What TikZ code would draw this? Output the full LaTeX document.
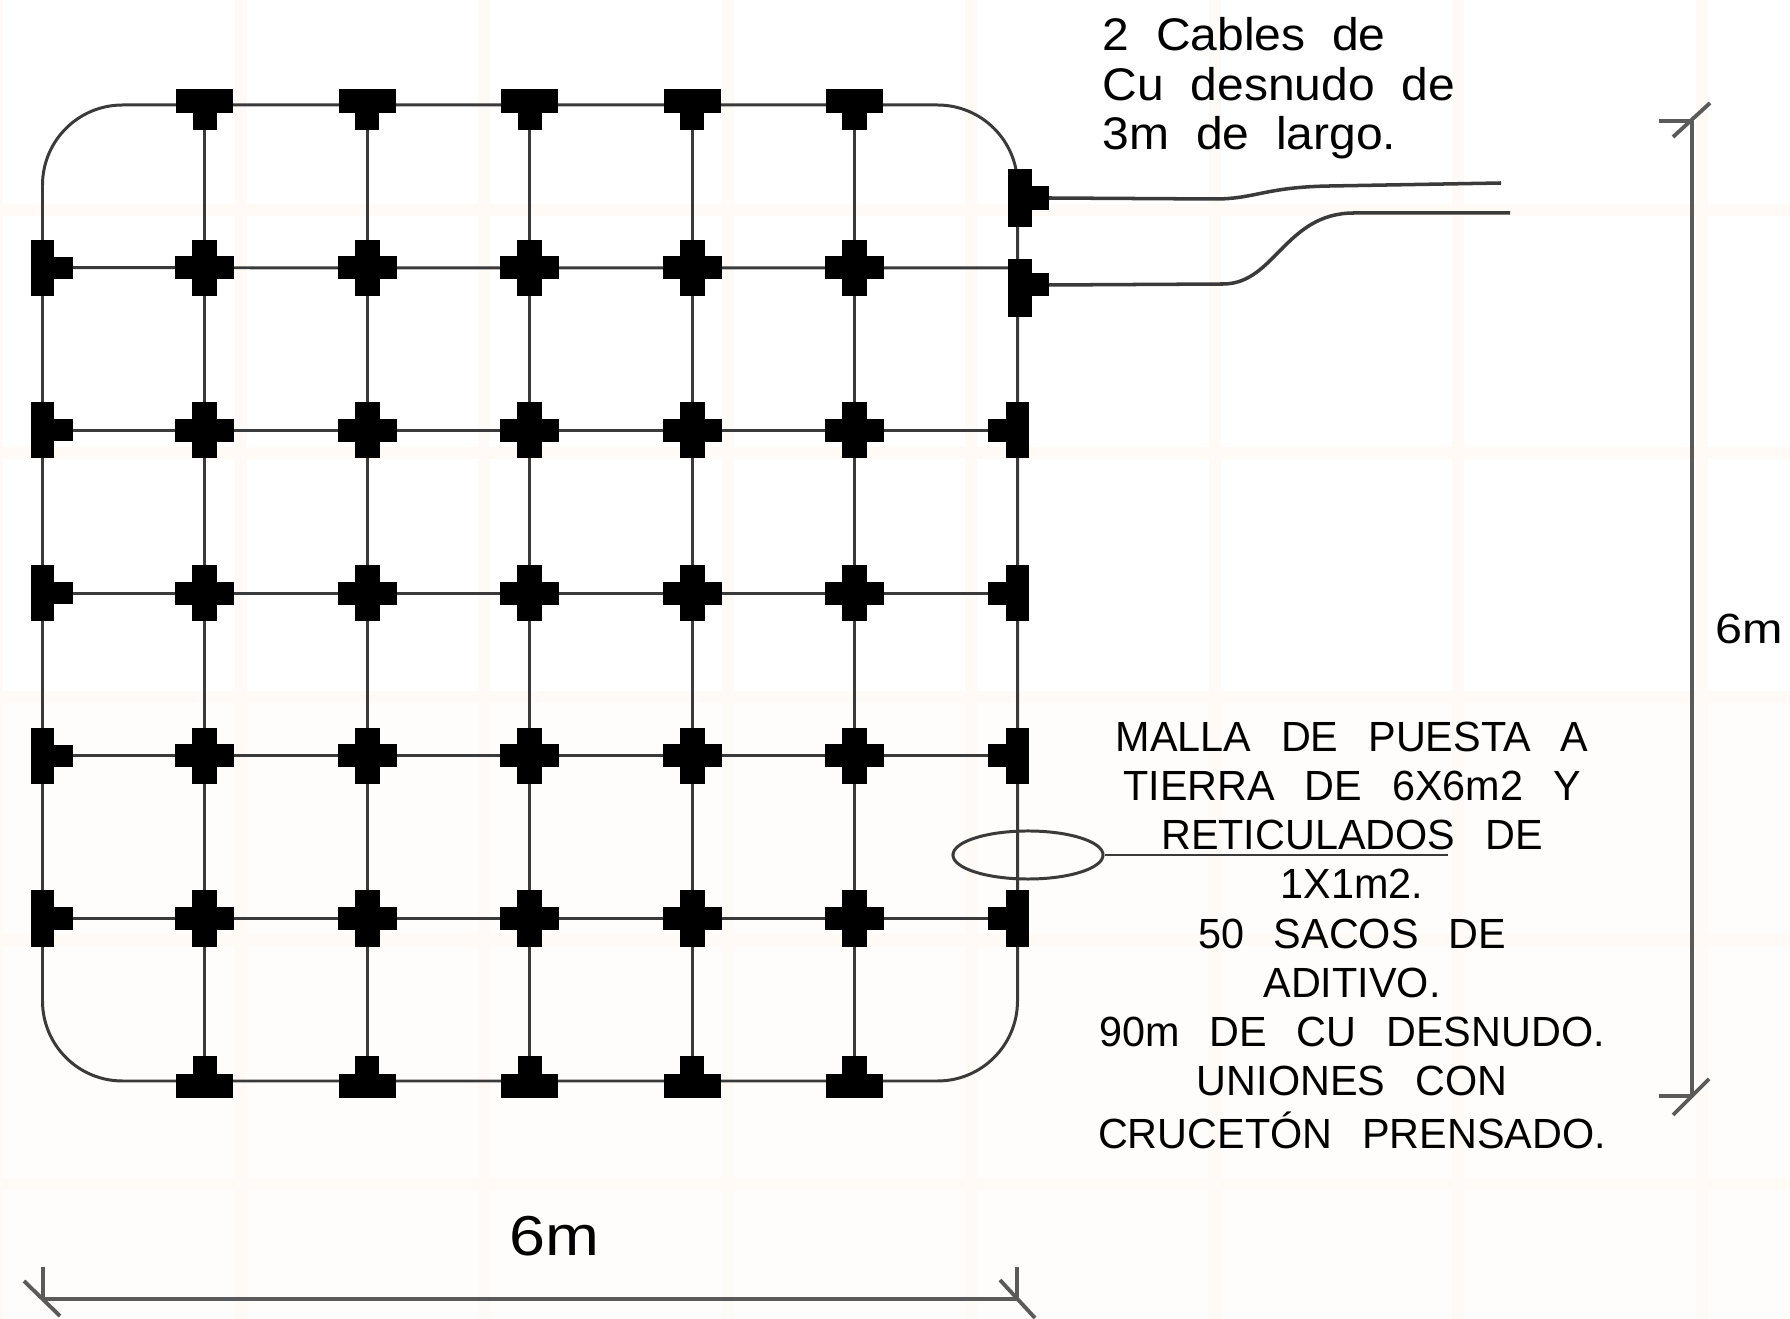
\documentclass[tikz,border=0pt]{standalone}
\usepackage{fontspec}
\usetikzlibrary{shapes.geometric,backgrounds}
\setmainfont{Liberation Sans}[FakeStretch=0.98,WordSpace=2.6]
\newfontfamily\cablefont{Liberation Sans}[FakeStretch=1.05,WordSpace=2.0]
\newfontfamily\cotafont{Liberation Sans}[FakeStretch=1.15]
\definecolor{fondo}{HTML}{FFFDFB}
\definecolor{raya}{HTML}{FFFAF6}
\definecolor{linea}{HTML}{3A3A3A}
\definecolor{cota}{HTML}{5A5A5A}
\tikzset{
  barra/.style={fill=black,inner sep=0pt,outer sep=0pt},
  barh/.style={barra,minimum width=0.59cm,minimum height=0.23cm},
  barv/.style={barra,minimum width=0.25cm,minimum height=0.56cm},
  malla/.style={draw=linea,line width=0.85pt},
  dimen/.style={draw=cota,line width=1.1pt},
  rotulo/.style={align=left,inner sep=0pt,font=\fontsize{12}{14}\selectfont},
}
\begin{document}
\begin{tikzpicture}[x=0.01cm,y=-0.01cm]
  \useasboundingbox (0,0) rectangle (1790,1319);
  % junctions of the grid
  \foreach \i in {1,...,5} {
    \foreach \j in {1,...,5} {
      \node[barh] (h-\i-\j) at ({42.5+162.4*\i},{105+162.7*\j}) {};
      \node[barv] (v-\i-\j) at ({42.5+162.4*\i},{105+162.7*\j}) {};
    }
    \node[barh,minimum width=0.57cm,minimum height=0.24cm] (h-\i-0) at ({42.5+162.4*\i},101) {};
    \node[barv,minimum width=0.24cm,minimum height=0.30cm] (v-\i-0) at ({42.5+162.4*\i},115) {};
    \node[barh,minimum width=0.57cm,minimum height=0.24cm] (h-\i-6) at ({42.5+162.4*\i},1086) {};
    \node[barv,minimum width=0.24cm,minimum height=0.30cm] (v-\i-6) at ({42.5+162.4*\i},1071) {};
  }
  \foreach \j in {1,...,5} {
    \node[barv,minimum width=0.23cm] (v-0-\j) at (42.5,{105+162.7*\j}) {};
    \node[barh,minimum width=0.31cm,minimum height=0.22cm] (h-0-\j) at (57.5,{105+162.7*\j}) {};
  }
  \foreach \j in {2,...,5} {
    \node[barv,minimum width=0.23cm] (v-6-\j) at (1017.5,{105+162.7*\j}) {};
    \node[barh,minimum width=0.30cm,minimum height=0.23cm] (h-6-\j) at (1003,{105+162.7*\j}) {};
  }
  % the two that carry the loose cables
  \node[barv,minimum width=0.24cm,minimum height=0.58cm] (v-a) at (1020,198) {};
  \node[barh,minimum width=0.30cm,minimum height=0.24cm] (h-a) at (1034,198) {};
  \node[barv,minimum width=0.24cm,minimum height=0.57cm] (v-b) at (1020,288) {};
  \node[barh,minimum width=0.30cm,minimum height=0.23cm] (h-b) at (1034,285) {};
  \coordinate (esq-a) at (42.5,105);
  \coordinate (esq-b) at (1017.5,1081);
  \coordinate (r-1) at (1017.5,268);
  \begin{scope}[on background layer]
    \fill[white] (0,0) rectangle (1790,1319);
    \fill[fondo] (0,700) rectangle (1790,1319);
    \foreach \k in {0,1,2,3,4,5,6,7} {
      \fill[raya] ({-9+243.5*\k},0) rectangle ({3+243.5*\k},1319);
    }
    \foreach \k in {0,1,2,3,4} {
      \fill[raya] (0,{204+243.5*\k}) rectangle (1790,{216+243.5*\k});
    }
    % grid
    \draw[malla,rounded corners=0.8cm] (esq-a) rectangle (esq-b);
    \foreach \i in {1,...,5} {
      \draw[malla] (h-\i-0) -- (h-\i-6);
    }
    \foreach \j in {2,...,5} {
      \draw[malla] (v-0-\j) -- (v-6-\j);
    }
    \draw[malla] (v-0-1) -- (r-1);
  \end{scope}
  % cables
  \coordinate (fin-a) at (1501,183);
  \coordinate (fin-b) at (1510,213);
  \draw[malla,line width=1pt] (h-a.east) -- (1215,199) .. controls (1255,199) and (1265,187) .. (1330,186) -- (fin-a);
  \draw[malla,line width=1pt] (h-b.east) -- (1223,284) .. controls (1275,284) and (1285,213) .. (1354,213) -- (fin-b);
  % leader
  \node[draw=linea,line width=0.85pt,ellipse,minimum width=1.5cm,minimum height=0.48cm,inner sep=0pt] (aro) at (1028,855) {};
  \coordinate (fin-c) at (1448,855);
  \draw[malla] (aro) -- (fin-c);
  % dimensions
  \coordinate (t-a) at (1692,121);
  \coordinate (t-b) at (1692,1096);
  \coordinate (t-c) at (43,1299);
  \coordinate (t-d) at (1017,1299);
  \draw[dimen] (t-a) -- (t-b);
  \draw[dimen] (t-c) -- (t-d);
  \draw[dimen] (1659,121) -- (t-a);
  \draw[dimen] (1673,137) -- (1710,103);
  \draw[dimen] (1659,1096) -- (t-b);
  \draw[dimen] (1673,1115) -- (1709,1079);
  \draw[dimen] (1017,1267) -- (t-d);
  \draw[dimen] (1000,1280) -- (1035,1318);
  \draw[dimen] (43,1267) -- (t-c);
  \draw[dimen] (24,1281) -- (60,1316);
  % texts
  \node[rotulo,anchor=north west,font=\cablefont\fontsize{13}{14}\selectfont] (txt-a) at (1102,17) {2 Cables de\\Cu desnudo de\\3m de largo.};
  \node[rotulo,align=center,anchor=north] (txt-b) at (1352,721) {MALLA DE PUESTA A\\TIERRA DE 6X6m2 Y\\RETICULADOS DE\\1X1m2.\\50 SACOS DE\\ADITIVO.\\90m DE CU DESNUDO.\\UNIONES CON\\[1pt]CRUCETÓN PRENSADO.};
  \node[inner sep=0pt,font=\cotafont\fontsize{16}{18}\selectfont] (txt-c) at (554,1236) {6m};
  \node[inner sep=0pt,font=\cotafont\fontsize{12}{14}\selectfont] (txt-d) at (1749,629) {6m};
\end{tikzpicture}
\end{document}
